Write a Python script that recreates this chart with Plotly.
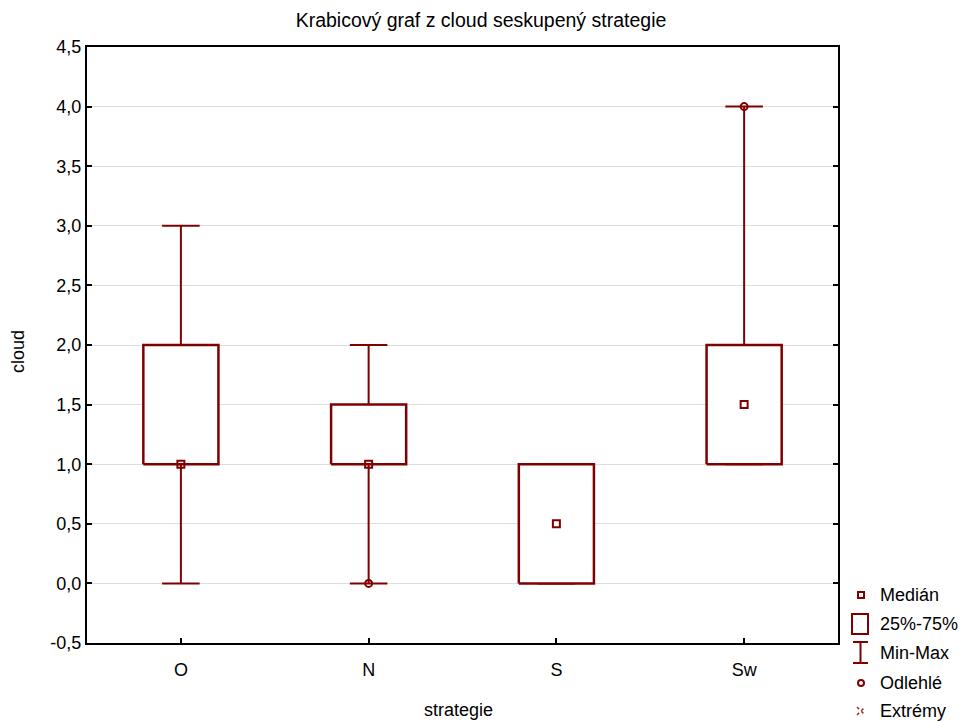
import plotly.graph_objects as go

# ---- data ----
categories = ["O", "N", "S", "Sw"]
medians = [1.0, 1.0, 0.5, 1.5]
q1 = [1.0, 1.0, 0.0, 1.0]
q3 = [2.0, 1.5, 1.0, 2.0]
mins = [0.0, 0.0, 0.0, 1.0]
maxs = [3.0, 2.0, 1.0, 4.0]
outlier_cats = ["N", "Sw"]
outlier_vals = [0.0, 4.0]
y_ticks = [-0.5, 0.0, 0.5, 1.0, 1.5, 2.0, 2.5, 3.0, 3.5, 4.0, 4.5]
y_tick_labels = ["-0,5", "0,0", "0,5", "1,0", "1,5", "2,0", "2,5", "3,0", "3,5", "4,0", "4,5"]
legend_labels = ["Medián", "25%-75%", "Min-Max", "Odlehlé", "Extrémy"]

RED = "#800000"
FONT = "Liberation Sans, Arial, sans-serif"
FS = 18
BOX_HW = 0.2
CAP_HW = 0.1

# plot area in pixels
W, H = 962, 722
L, R, T, B = 87, 838, 47, 643

def px(x):
    return (x - L) / (R - L)

def py(y):
    return (B - y) / (B - T)

fig = go.Figure()
idx = list(range(len(categories)))

# whiskers
wx, wy = [], []
for i in idx:
    wx += [i, i, None, i, i, None]
    wy += [mins[i], q1[i], None, q3[i], maxs[i], None]
    wx += [i - CAP_HW, i + CAP_HW, None, i - CAP_HW, i + CAP_HW, None]
    wy += [mins[i], mins[i], None, maxs[i], maxs[i], None]
fig.add_trace(go.Scatter(x=wx, y=wy, mode="lines", line=dict(color=RED, width=2),
                         hoverinfo="skip", showlegend=False))

# boxes
for i in idx:
    bx = [i - BOX_HW, i + BOX_HW, i + BOX_HW, i - BOX_HW, i - BOX_HW]
    by = [q1[i], q1[i], q3[i], q3[i], q1[i]]
    fig.add_trace(go.Scatter(x=bx, y=by, mode="lines", fill="toself", fillcolor="white",
                             line=dict(color=RED, width=2.5), hoverinfo="skip", showlegend=False))

# medians
fig.add_trace(go.Scatter(x=idx, y=medians, mode="markers",
                         marker=dict(symbol="square-open", size=7, color=RED, line=dict(width=2, color=RED)),
                         showlegend=False))

# outliers
ox = [categories.index(c) for c in outlier_cats]
fig.add_trace(go.Scatter(x=ox, y=outlier_vals, mode="markers",
                         marker=dict(symbol="circle-open", size=7, color=RED, line=dict(width=2, color=RED)),
                         showlegend=False))

# ---- manual legend ----
shapes = []
annotations = []
sx = 861
text_x = 878
item_y = [595, 624, 653, 683, 711]
# median symbol
shapes.append(dict(type="rect", xref="paper", yref="paper",
                   x0=px(sx - 3), x1=px(sx + 3), y0=py(item_y[0] + 3), y1=py(item_y[0] - 3),
                   line=dict(color=RED, width=2)))
# box symbol
shapes.append(dict(type="rect", xref="paper", yref="paper",
                   x0=px(852), x1=px(868), y0=py(634), y1=py(614),
                   line=dict(color=RED, width=2)))
# min-max symbol
for (x0, y0, x1, y1) in [(853, 642, 868, 642), (853, 663, 868, 663), (860.5, 642, 860.5, 663)]:
    shapes.append(dict(type="line", xref="paper", yref="paper",
                       x0=px(x0), x1=px(x1), y0=py(y0), y1=py(y1),
                       line=dict(color=RED, width=2)))
# outlier symbol
shapes.append(dict(type="circle", xref="paper", yref="paper",
                   x0=px(sx - 3), x1=px(sx + 3), y0=py(item_y[3] + 3), y1=py(item_y[3] - 3),
                   line=dict(color=RED, width=2)))
# extreme symbol
for (x0, y0, x1, y1) in [(857, 707, 865, 715), (857, 715, 865, 707)]:
    shapes.append(dict(type="line", xref="paper", yref="paper",
                       x0=px(x0), x1=px(x1), y0=py(y0), y1=py(y1),
                       line=dict(color="#a03030", width=1.5, dash="dot")))
for lab, yy in zip(legend_labels, item_y):
    annotations.append(dict(text=lab, xref="paper", yref="paper", x=px(text_x), y=py(yy),
                            xanchor="left", yanchor="middle", showarrow=False,
                            font=dict(family=FONT, size=FS, color="black")))

# axis titles
annotations.append(dict(text="strategie", xref="paper", yref="paper", x=px(458), y=py(710),
                        xanchor="center", yanchor="middle", showarrow=False,
                        font=dict(family=FONT, size=FS, color="black")))
annotations.append(dict(text="cloud", xref="paper", yref="paper", x=px(18), y=py(352),
                        xanchor="center", yanchor="middle", showarrow=False, textangle=-90,
                        font=dict(family=FONT, size=FS, color="black")))

fig.update_layout(
    width=W, height=H,
    margin=dict(l=L, r=W - R, t=T, b=H - B, autoexpand=False),
    paper_bgcolor="white", plot_bgcolor="white",
    font=dict(family=FONT, size=FS, color="black"),
    title=dict(text="Krabicový graf z cloud seskupený strategie", x=481 / W, xref="container",
               xanchor="center", y=1 - 20 / H, yref="container", yanchor="middle",
               font=dict(family=FONT, size=19.5, color="black")),
    shapes=shapes, annotations=annotations, showlegend=False,
)
fig.update_xaxes(range=[-0.5, 3.5], tickvals=idx, ticktext=categories,
                 showgrid=False, zeroline=False, showline=True, linecolor="black", linewidth=2,
                 mirror=True, ticks="inside", ticklen=5, tickwidth=1.5, tickcolor="black",
                 ticklabelstandoff=9,
                 tickfont=dict(family=FONT, size=FS, color="black"))
fig.update_yaxes(range=[-0.5, 4.5], tickvals=y_ticks, ticktext=y_tick_labels,
                 showgrid=True, gridcolor="#dedede", gridwidth=1, zeroline=False,
                 showline=True, linecolor="black", linewidth=2, mirror="ticks",
                 ticks="inside", ticklen=5, tickwidth=1.5, tickcolor="black",
                 tickfont=dict(family=FONT, size=FS, color="black"))

fig.write_html("out.html")
